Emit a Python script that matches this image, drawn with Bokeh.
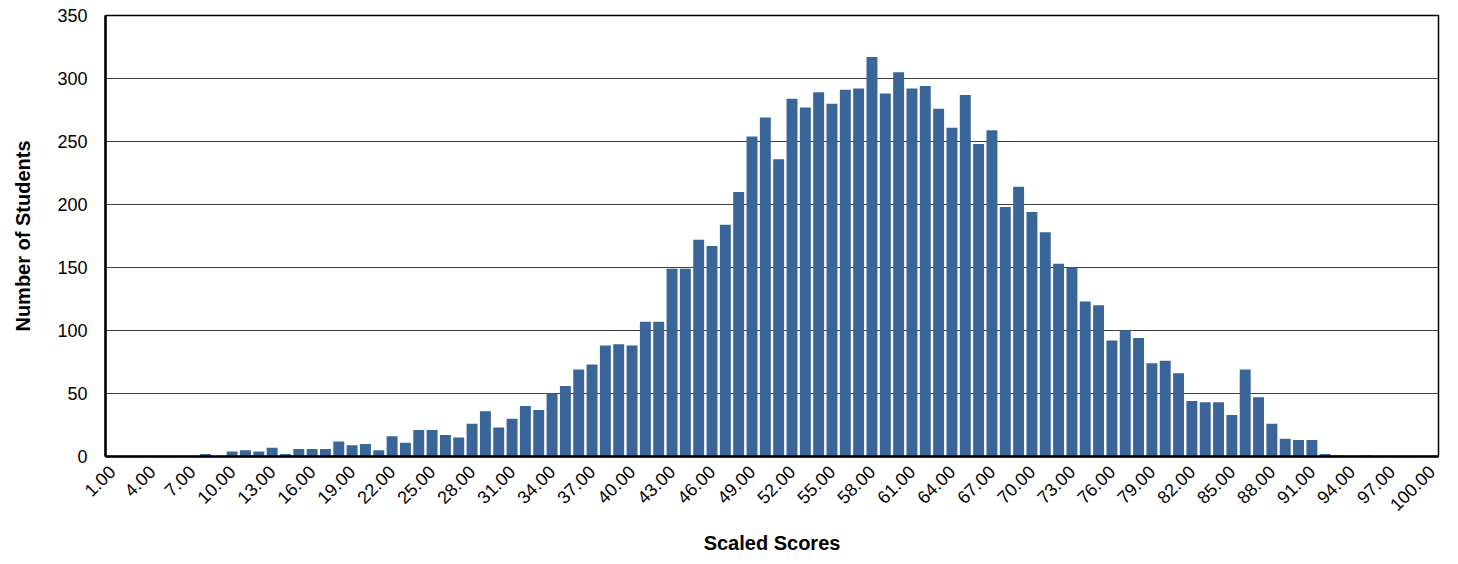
from bokeh.plotting import figure
from bokeh.models import FixedTicker, ColumnDataSource
from bokeh.embed import file_html
from bokeh.resources import INLINE
import math

scores = list(range(1, 101))
counts = [
    0, 0, 0, 0, 0, 0, 0, 2, 0, 4,
    5, 4, 7, 2, 6, 6, 6, 12, 9, 10,
    5, 16, 11, 21, 21, 17, 15, 26, 36, 23,
    30, 40, 37, 50, 56, 69, 73, 88, 89, 88,
    107, 107, 149, 149, 172, 167, 184, 210, 254, 269,
    236, 284, 277, 289, 280, 291, 292, 317, 288, 305,
    292, 294, 276, 261, 287, 248, 259, 198, 214, 194,
    178, 153, 150, 123, 120, 92, 100, 94, 74, 76,
    66, 44, 43, 43, 33, 69, 47, 26, 14, 13,
    13, 2, 1, 0, 1, 0, 0, 0, 0, 0,
]
tick_values = list(range(1, 101, 3))
tick_labels = [f"{v:.2f}" for v in tick_values]
y_ticks = [0, 50, 100, 150, 200, 250, 300, 350]

FONT = "Liberation Sans"

source = ColumnDataSource(dict(x=scores, y=counts))

p = figure(width=1450, height=556, x_range=(0.5, 100.5), y_range=(0, 350),
           output_backend="svg", toolbar_location=None)
p.min_border_left = 105
p.min_border_right = 12
p.min_border_top = 15
p.min_border_bottom = 98

p.vbar(x="x", top="y", width=0.82, source=source, color="#3A6598", line_color=None)

p.outline_line_color = "black"
p.outline_line_width = 1.5
p.outline_line_alpha = 1

p.xgrid.grid_line_color = None
p.ygrid.grid_line_color = "#404040"
p.ygrid.grid_line_width = 1
p.ygrid.ticker = FixedTicker(ticks=y_ticks)

p.xaxis.ticker = FixedTicker(ticks=tick_values)
p.xaxis.major_label_overrides = {v: l for v, l in zip(tick_values, tick_labels)}
p.xaxis.major_label_orientation = math.pi / 4
p.xaxis.axis_label = "Scaled Scores"
p.yaxis.ticker = FixedTicker(ticks=y_ticks)
p.yaxis.axis_label = "Number of Students"

for ax in (p.xaxis[0], p.yaxis[0]):
    ax.axis_line_color = "black"
    ax.axis_line_width = 2.5
    ax.major_tick_line_color = None
    ax.minor_tick_line_color = None
    ax.major_label_text_font = FONT
    ax.major_label_text_font_size = "18px"
    ax.major_label_text_color = "black"
    ax.axis_label_text_font = FONT
    ax.axis_label_text_font_size = "20px"
    ax.axis_label_text_font_style = "bold"
    ax.axis_label_text_color = "black"

p.xaxis.major_label_standoff = 6
p.xaxis.axis_label_standoff = 12
p.yaxis.major_label_standoff = 12
p.yaxis.axis_label_standoff = 20

open("out.html", "w").write(file_html(p, INLINE))
